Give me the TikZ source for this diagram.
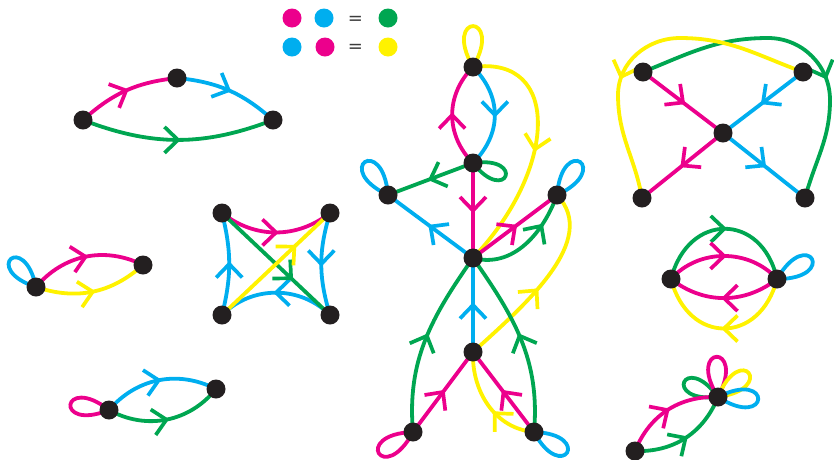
\documentclass[tikz,border=0pt]{standalone}
\usepackage{fontspec}
\newfontfamily\eqfont{DejaVu Sans}
\usetikzlibrary{decorations.markings,backgrounds}
\definecolor{mag}{RGB}{236,0,140}
\definecolor{cya}{RGB}{0,174,239}
\definecolor{grn}{RGB}{0,166,81}
\definecolor{yel}{RGB}{255,242,0}
\definecolor{dotc}{RGB}{35,31,32}
\definecolor{eqc}{RGB}{60,60,60}
\tikzset{
 vtx/.style={circle,fill=dotc,inner sep=0pt,minimum size=19pt},
 ldot/.style={circle,inner sep=0pt,minimum size=19pt},
 ed/.style={line width=3.8pt},
 arr/.style={postaction={decorate,decoration={markings,mark=at position #1 with {\draw[line width=3.7pt,line join=miter,line cap=butt] (-13.5,13) -- (0,0) -- (-13.5,-13);}}}},
 arr/.default=0.5,
 eqs/.style={text=eqc,font=\eqfont\fontsize{18}{18}\selectfont,inner sep=0pt},
}
\newcommand\myloop[4]{\draw[ed,#1] (#2.center) .. controls +({#3-30}:#4) and +({#3+30}:#4) .. (#2.center);}
\begin{document}
\begin{tikzpicture}[x=1pt,y=1pt]
\useasboundingbox (0,0) rectangle (834,-459);
% legend
\node[ldot,fill=mag] (l1) at (292,-18) {};
\node[ldot,fill=cya] (l2) at (324,-18) {};
\node[eqs] (e1) at (355.5,-20) {=};
\node[ldot,fill=grn] (l3) at (388,-18) {};
\node[ldot,fill=cya] (l4) at (292,-47) {};
\node[ldot,fill=mag] (l5) at (325,-47) {};
\node[eqs] (e2) at (355.5,-48) {=};
\node[ldot,fill=yel] (l6) at (388,-47) {};
% graph 1
\node[vtx] (a1) at (83,-120) {};
\node[vtx] (a2) at (177,-78) {};
\node[vtx] (a3) at (273,-120) {};
% graph 2
\node[vtx] (b1) at (36,-287) {};
\node[vtx] (b2) at (143,-265) {};
% graph 3
\node[vtx] (c1) at (222,-213) {};
\node[vtx] (c2) at (330,-213) {};
\node[vtx] (c3) at (222,-315) {};
\node[vtx] (c4) at (330,-315) {};
% graph 4
\node[vtx] (d1) at (109,-410) {};
\node[vtx] (d2) at (216,-389) {};
% central
\node[vtx] (n1) at (473,-67) {};
\node[vtx] (n2) at (473,-163) {};
\node[vtx] (n3) at (388,-195) {};
\node[vtx] (n4) at (557,-195) {};
\node[vtx] (n5) at (473,-258) {};
\node[vtx] (n6) at (473,-352) {};
\node[vtx] (n7) at (413,-432) {};
\node[vtx] (n8) at (534,-432) {};
% top right
\node[vtx] (p1) at (643,-72) {};
\node[vtx] (p2) at (803,-72) {};
\node[vtx] (p3) at (642,-198) {};
\node[vtx] (p4) at (805,-198) {};
\node[vtx] (pc) at (723,-133) {};
% middle right
\node[vtx] (q1) at (671,-279) {};
\node[vtx] (q2) at (777,-279) {};
% bottom right
\node[vtx] (r1) at (635,-451) {};
\node[vtx] (r2) at (718,-397) {};

\begin{scope}[on background layer]
% graph 1
\draw[ed,mag,arr] (a1.center) to[bend left=18] (a2.center);
\draw[ed,cya,arr] (a2.center) to[bend left=18] (a3.center);
\draw[ed,grn,arr] (a1.center) to[bend right=21] (a3.center);
% graph 2
\myloop{cya}{b1}{132}{58}
\draw[ed,mag,arr] (b1.center) to[bend left=38] (b2.center);
\draw[ed,yel,arr] (b1.center) to[bend right=30] (b2.center);
% graph 3
\draw[ed,mag,arr] (c1.center) to[bend right=38] (c2.center);
\draw[ed,cya,arr] (c3.center) to[bend right=14] (c1.center);
\draw[ed,cya,arr] (c2.center) to[bend right=17] (c4.center);
\draw[ed,cya,arr] (c4.center) to[bend right=45] (c3.center);
\draw[ed,grn,arr=0.64] (c1.center) -- (c4.center);
\draw[ed,yel,arr=0.67] (c3.center) -- (c2.center);
% graph 4
\myloop{mag}{d1}{172}{60}
\draw[ed,cya,arr] (d1.center) to[bend left=38] (d2.center);
\draw[ed,grn,arr] (d1.center) to[bend right=40] (d2.center);
% central
\myloop{yel}{n1}{90}{63}
\draw[ed,mag,arr] (n2.center) to[out=135,in=-135,looseness=1.05] (n1.center);
\draw[ed,cya,arr] (n1.center) to[out=-45,in=45,looseness=1.1] (n2.center);
\draw[ed,yel,arr] (n1.center) .. controls (562,-55) and (557,-170) .. (n5.center);
\myloop{grn}{n2}{-22}{54}
\draw[ed,grn,arr] (n2.center) -- (n3.center);
\draw[ed,mag,arr] (n2.center) -- (n5.center);
\myloop{cya}{n3}{125}{62}
\draw[ed,cya,arr] (n5.center) -- (n3.center);
\myloop{cya}{n4}{55}{62}
\draw[ed,mag,arr] (n5.center) -- (n4.center);
\draw[ed,grn,arr=0.7] (n5.center) to[out=-15,in=-110] (n4.center);
\draw[ed,yel,arr=0.45] (n6.center) .. controls (525,-305) and (600,-240) .. (n4.center);
\draw[ed,cya,arr] (n6.center) -- (n5.center);
\draw[ed,grn,arr=0.52] (n7.center) to[out=95,in=-125] (n5.center);
\draw[ed,grn,arr=0.52] (n8.center) to[out=85,in=-55] (n5.center);
\draw[ed,mag,arr] (n7.center) -- (n6.center);
\draw[ed,mag,arr] (n8.center) -- (n6.center);
\draw[ed,yel,arr=0.4] (n8.center) to[out=175,in=-92] (n6.center);
\myloop{mag}{n7}{212}{62}
\myloop{cya}{n8}{-32}{60}
% top right
\draw[ed,mag,arr] (p1.center) -- (pc.center);
\draw[ed,mag,arr] (pc.center) -- (p3.center);
\draw[ed,cya,arr] (p2.center) -- (pc.center);
\draw[ed,cya,arr] (pc.center) -- (p4.center);
\draw[ed,grn,arr=0.62] (p1.center) to[out=22,in=180] (768,-38) to[out=0,in=90] (830,-100) to[out=-90,in=75] (p4.center);
\draw[ed,yel,arr=0.62] (p2.center) to[out=160,in=0] (680,-38) to[out=180,in=90] (618,-95) to[out=-90,in=100] (p3.center);
% middle right
\draw[ed,grn,arr] (q1.center) .. controls (688,-212) and (762,-212) .. (q2.center);
\draw[ed,mag,arr] (q1.center) to[bend left=48] (q2.center);
\draw[ed,mag,arr] (q2.center) to[bend left=38] (q1.center);
\draw[ed,yel,arr] (q2.center) .. controls (760,-345) and (688,-345) .. (q1.center);
\myloop{cya}{q2}{30}{62}
% bottom right
\myloop{grn}{r2}{156}{57}
\myloop{mag}{r2}{92}{62}
\myloop{yel}{r2}{38}{60}
\myloop{cya}{r2}{-3}{62}
\draw[ed,mag,arr] (r1.center) to[bend left=35] (r2.center);
\draw[ed,grn,arr] (r1.center) to[bend right=35] (r2.center);
\end{scope}
\end{tikzpicture}
\end{document}
